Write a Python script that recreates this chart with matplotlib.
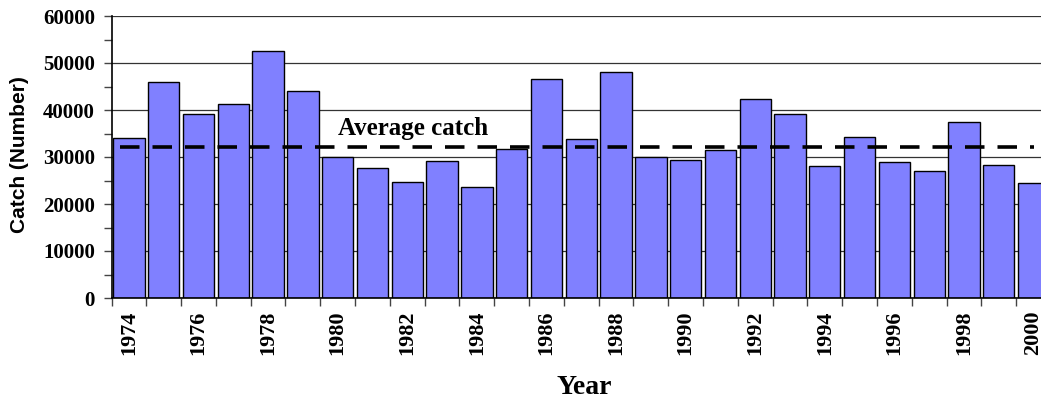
import numpy as np
import matplotlib
matplotlib.use('Agg')
import matplotlib.pyplot as plt
from matplotlib.ticker import MultipleLocator

# catch per year
years = list(range(1974, 2001))
catch = [34000, 45900, 39200, 41200, 52600, 44000, 29900,
         27700, 24600, 29200, 23600, 31600, 46600, 33800, 48000, 30100, 29400,
         31400, 42300, 39100, 28000, 34200, 28900, 27100, 37400, 28400, 24400]
avg_catch = 32100
avg_label = 'Average catch'
year_labels = [str(y) if y % 2 == 0 else '' for y in years]

serif = 'Liberation Serif'
sans = 'Liberation Sans'

fig = plt.figure(figsize=(10.41, 4.05), dpi=100)
# axes runs a little past the right edge, as in the reference
ax = fig.add_axes([111.5/1041, 107/405, 939.5/1041, 282/405])

ax.bar(years, catch, width=0.9, color='#8080ff', edgecolor='black',
       linewidth=1.0, zorder=2)

ax.plot([years[0] - 0.25, years[-1]], [avg_catch, avg_catch], color='black',
        lw=2.6, dashes=(5.4, 3.6), solid_capstyle='butt',
        dash_capstyle='butt', zorder=3)
ax.text(1980, 34700, avg_label, fontfamily=serif, fontweight='bold',
        fontsize=18, ha='left', va='baseline', zorder=4)

ax.set_xlim(years[0] - 0.5, years[-1] + 0.5)
ax.set_ylim(0, 60000)

ax.yaxis.set_major_locator(MultipleLocator(10000))
ax.yaxis.set_minor_locator(MultipleLocator(5000))
ax.grid(axis='y', which='major', color='#333333', lw=0.9, zorder=0)
ax.set_axisbelow(True)

ax.set_xticks(np.arange(years[0] - 0.5, years[-1] + 1, 1.0), minor=True)
ax.set_xticks(years)
ax.set_xticklabels(year_labels, rotation=90, fontfamily=serif,
                   fontweight='bold', fontsize=16)
ax.tick_params(axis='x', which='major', length=0, pad=9)
ax.tick_params(axis='x', which='minor', length=6, width=1, color='#444444')
ax.tick_params(axis='y', which='both', length=6, width=1, color='#444444')
ax.tick_params(axis='y', which='major', pad=6)
for lab in ax.get_yticklabels():
    lab.set_fontfamily(serif)
    lab.set_fontweight('bold')
    lab.set_fontsize(15)

for s in ['top', 'right']:
    ax.spines[s].set_visible(False)
ax.spines['left'].set_linewidth(1.2)
ax.spines['bottom'].set_linewidth(1.2)

fig.text(20/1041, 1 - 155/405, 'Catch (Number)', fontfamily=sans,
         fontweight='bold', fontsize=15, rotation=90, ha='center', va='center')
fig.text(584/1041, 1 - 388/405, 'Year', fontfamily=serif, fontweight='bold',
         fontsize=20, ha='center', va='center')

fig.savefig('out.png', dpi=100)
